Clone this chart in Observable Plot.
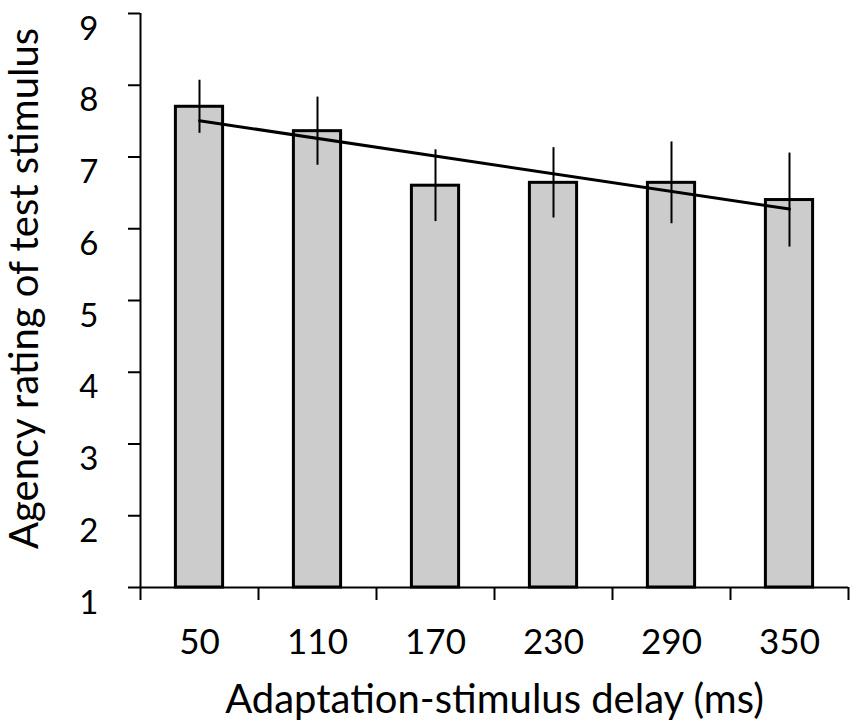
<!DOCTYPE html>
<html>
<head>
<meta charset="utf-8">
<script src="https://cdn.jsdelivr.net/npm/d3@7"></script>
<script src="https://cdn.jsdelivr.net/npm/@observablehq/plot@0.6"></script>
<style>
  html, body { margin: 0; padding: 0; background: #fff; }
  #chart svg { display: block; }
</style>
</head>
<body>
<div id="chart"></div>
<script>
// Data
const delays = [50, 110, 170, 230, 290, 350];           // ms (category labels)
const meanRating = [7.70, 7.36, 6.60, 6.64, 6.64, 6.40]; // bar heights
const stdError = [0.37, 0.475, 0.50, 0.49, 0.57, 0.655]; // error bar half-lengths
const yTicks = [1, 2, 3, 4, 5, 6, 7, 8, 9];
const xTitle = "Adaptation-stimulus delay (ms)";
const yTitle = "Agency rating of test stimulus";

const step = 60;           // spacing between delays (ms)
const barHalf = 12;        // half bar width in ms units
const data = delays.map((d, i) => ({delay: d, mean: meanRating[i], se: stdError[i]}));
const boundaries = [delays[0] - step / 2, ...delays.map(d => d + step / 2)];

const font = "Lato, 'Open Sans', sans-serif";

const chart = Plot.plot({
  width: 850,
  height: 726,
  marginLeft: 140,
  marginRight: 2,
  marginTop: 13,
  marginBottom: 139,
  style: {fontFamily: font, color: "black", background: "white", overflow: "visible"},
  x: {domain: [boundaries[0], boundaries[boundaries.length - 1]]},
  y: {domain: [1, 9]},
  marks: [
    Plot.rectY(data, {
      x1: d => d.delay - barHalf, x2: d => d.delay + barHalf,
      y1: 1, y2: "mean",
      fill: "#cccccc", stroke: "black", strokeWidth: 3
    }),
    Plot.ruleX(data, {x: "delay", y1: d => d.mean - d.se, y2: d => d.mean + d.se, stroke: "black", strokeWidth: 2}),
    Plot.linearRegressionY(data, {x: "delay", y: "mean", ci: 0, stroke: "black", strokeWidth: 3}),
    Plot.ruleX([boundaries[0]], {stroke: "black", strokeWidth: 2}),
    Plot.ruleY([1], {stroke: "black", strokeWidth: 2}),
    Plot.axisY({ticks: yTicks, tickSize: 12, tickPadding: 30, fontSize: 33, strokeWidth: 2, label: null}),
    Plot.text([yTitle], {text: d => d, frameAnchor: "left", rotate: -90, textAnchor: "middle", lineAnchor: "top",
      dx: -131, dy: -12, fontSize: 40, fill: "black"}),
    Plot.axisX({ticks: boundaries, tickSize: 13, strokeWidth: 2, tickFormat: () => "", label: null}),
    Plot.axisX({ticks: delays, tickSize: 0, tickPadding: 42, fontSize: 35, tickFormat: d => String(d), label: null}),
    Plot.text([xTitle], {text: d => d, frameAnchor: "bottom", textAnchor: "middle", lineAnchor: "bottom",
      dy: 125, fontSize: 40, fill: "black"})
  ]
});
// shift y tick labels slightly downward to match the reference's digit placement
d3.select(chart).selectAll("g[aria-label='y-axis tick label'] text").attr("dy", "0.47em");
document.getElementById("chart").appendChild(chart);
</script>
</body>
</html>
